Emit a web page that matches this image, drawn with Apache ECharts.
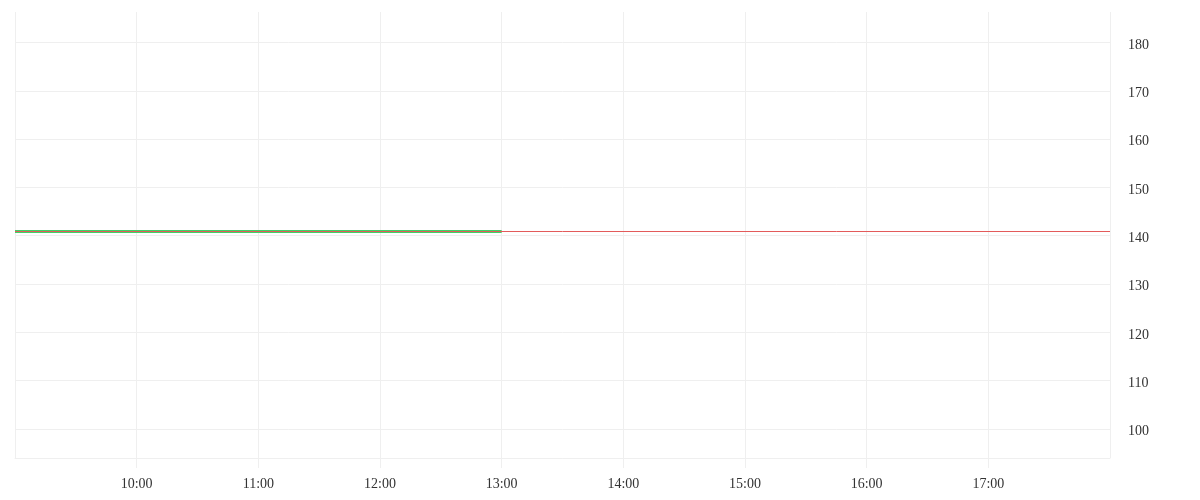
<!DOCTYPE html>
<html>
<head>
<meta charset="utf-8">
<script src="https://cdn.jsdelivr.net/npm/echarts@6/dist/echarts.min.js"></script>
<style>
    html, body { margin: 0; padding: 0; background: #fff; }
    #chart { width: 1200px; height: 500px; }
</style>
</head>
<body>
<div id="chart"></div>
<script>
    // session runs 09:00 - 18:00, ticks every hour
    const sessionStart = '09:00';
    const sessionEnd = '18:00';
    const priceTimes = ['09:00', '13:00'];
    const priceValues = [140.9, 140.9];
    const refPrice = 140.9;
    const yMin = 94;
    const yMax = 186.3;

    function toMinutes(hhmm) {
        let parts = hhmm.split(':');
        return Number(parts[0]) * 60 + Number(parts[1]);
    }

    function fmtMinutes(m) {
        let h = Math.floor(m / 60);
        let mm = m % 60;
        return (h < 10 ? '0' + h : h) + ':' + (mm < 10 ? '0' + mm : mm);
    }

    let seriesData = [];
    for (let i = 0; i < priceTimes.length; i++) {
        seriesData.push([toMinutes(priceTimes[i]), priceValues[i]]);
    }

    let gridColor = '#efefef';
    let textStyle = { color: '#333', fontFamily: 'Liberation Serif', fontSize: 14 };

    let myChart = echarts.init(document.getElementById('chart'));
    myChart.setOption({
        animation: false,
        grid: { left: 15, right: 90, top: 12, bottom: 42 },
        xAxis: {
            type: 'value',
            min: toMinutes(sessionStart),
            max: toMinutes(sessionEnd),
            interval: 60,
            axisLine: { show: true, lineStyle: { color: gridColor } },
            axisTick: { show: true, length: 10, lineStyle: { color: gridColor } },
            axisLabel: Object.assign({
                margin: 19,
                showMinLabel: false,
                showMaxLabel: false,
                formatter: function (v) { return fmtMinutes(v); }
            }, textStyle),
            splitLine: { show: true, lineStyle: { color: gridColor } }
        },
        yAxis: {
            type: 'value',
            position: 'right',
            min: yMin,
            max: yMax,
            splitNumber: 9,
            axisLine: { show: false },
            axisTick: { show: false },
            axisLabel: Object.assign({
                margin: 18,
                showMinLabel: false,
                showMaxLabel: false,
                formatter: function (v) { return '{p|' + v + '}'; },
                rich: {
                    p: Object.assign({ padding: [5, 0, 0, 0] }, textStyle)
                }
            }, textStyle),
            splitLine: {
                show: true,
                showMinLine: true,
                showMaxLine: false,
                lineStyle: { color: gridColor }
            }
        },
        series: [{
            type: 'line',
            data: seriesData,
            showSymbol: false,
            lineStyle: { color: '#3fd26a', width: 3 },
            markLine: {
                silent: true,
                symbol: 'none',
                label: { show: false },
                z: 10,
                lineStyle: { color: '#e35b5b', width: 1, type: 'solid' },
                data: [{ yAxis: refPrice }]
            }
        }]
    });
</script>
</body>
</html>
